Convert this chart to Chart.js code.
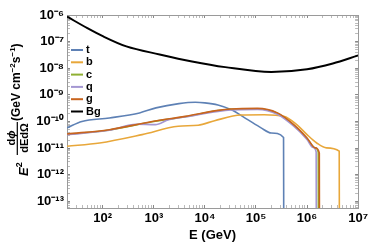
<!DOCTYPE html>
<html>
<head>
<meta charset="utf-8">
<script src="https://cdn.jsdelivr.net/npm/chart.js@4.4.0/dist/chart.umd.min.js"></script>
<style>
  html, body { margin: 0; padding: 0; background: #fff; }
</style>
</head>
<body>
<canvas id="mychart" width="374" height="245"></canvas>
<script>
// energies (GeV) and E^2 dphi/dEdOmega values
var labels = ["t", "b", "c", "q", "g", "Bg"];
var colors = ["#5E81B5", "#E8A73A", "#8FB032", "#A497D2", "#C8641E", "#000000"];

var tE    = [20, 39, 135, 525, 1100, 3100, 6500, 1e4, 1.8e4, 3.3e4, 6.9e4, 1.26e5, 2e5, 3.47e5, 3.5e5];
var tFlux = [5.75e-11, 1.0e-10, 1.35e-10, 2.09e-10, 3.24e-10, 4.68e-10, 5.25e-10, 5.0e-10, 4.17e-10, 2.75e-10, 1.17e-10, 5.75e-11, 3.7e-11, 2.5e-11, 1e-14];

var bE    = [20, 87, 590, 3000, 7400, 1.55e4, 5.1e4, 1.45e5, 3.5e5, 6.3e5, 1e6, 1.55e6, 2.4e6, 4.27e6, 4.3e6];
var bFlux = [1.17e-11, 1.55e-11, 3.2e-11, 6.6e-11, 7.2e-11, 1.07e-10, 1.74e-10, 1.78e-10, 1.55e-10, 7.6e-11, 3.2e-11, 1.55e-11, 1.02e-11, 7.6e-12, 1e-14];

var cE    = [20, 135, 930, 4100, 1.82e4, 3.24e4, 1.07e5, 2.63e5, 5.5e5, 1e6, 1.45e6, 1.66e6, 1.67e6];
var cFlux = [3.3e-11, 4.8e-11, 9.8e-11, 1.51e-10, 2.57e-10, 2.88e-10, 3.02e-10, 2.04e-10, 7.2e-11, 2.3e-11, 1.0e-11, 6.9e-12, 1e-14];

var qE    = [20, 135, 450, 1070, 1950, 4100, 1.82e4, 3.24e4, 1.07e5, 2.63e5, 5.5e5, 1e6, 1.32e6, 1.51e6, 1.52e6];
var qFlux = [3.2e-11, 4.7e-11, 7.9e-11, 7.6e-11, 1.17e-10, 1.48e-10, 2.4e-10, 2.7e-10, 2.82e-10, 1.86e-10, 6.6e-11, 2.1e-11, 1.05e-11, 7.1e-12, 1e-14];

var gE    = [20, 135, 930, 4100, 1.82e4, 3.24e4, 1.07e5, 2.63e5, 5.5e5, 1e6, 1.45e6, 1.74e6, 1.75e6];
var gFlux = [3.4e-11, 4.9e-11, 1.0e-10, 1.55e-10, 2.6e-10, 2.95e-10, 3.1e-10, 2.1e-10, 7.6e-11, 2.4e-11, 1.02e-11, 6.6e-12, 1e-14];

var bgE    = [20, 50, 100, 290, 1300, 5600, 2.5e4, 2e5, 1e6, 3.2e6, 1e7];
var bgFlux = [8.7e-7, 3.2e-7, 1.6e-7, 6.6e-8, 3.3e-8, 1.8e-8, 1.1e-8, 7.2e-9, 9.1e-9, 1.5e-8, 3.0e-8];

var xMin = 19.95, xMax = 1e7;
var yMin = 5.6e-14, yMax = 1e-6;

function pts(E, F) {
  return E.map(function (e, i) { return { x: e, y: F[i] }; });
}

var series = [[tE, tFlux], [bE, bFlux], [cE, cFlux], [qE, qFlux], [gE, gFlux], [bgE, bgFlux]];
var datasets = series.map(function (s, i) {
  return {
    label: labels[i],
    data: pts(s[0], s[1]),
    borderColor: colors[i],
    borderWidth: i == 5 ? 2 : 1.6,
    pointRadius: 0,
    cubicInterpolationMode: "monotone",
    fill: false,
    order: 5 - i   // later curves on top, like the original
  };
});

var sup = { "-": "\u207B", "0": "\u2070", "1": "\u00B9", "2": "\u00B2", "3": "\u00B3", "4": "\u2074",
            "5": "\u2075", "6": "\u2076", "7": "\u2077", "8": "\u2078", "9": "\u2079" };

function powLabel(v) {
  var e = Math.round(Math.log10(v));
  if (Math.abs(v / Math.pow(10, e) - 1) > 1e-6) return "";
  return "10" + String(e).split("").map(function (c) { return sup[c]; }).join("");
}

// all 1..9 x 10^n ticks so the frame gets minor marks
function logTicks(scale) {
  var t = [];
  var lo = Math.floor(Math.log10(scale.min)), hi = Math.ceil(Math.log10(scale.max));
  for (var e = lo; e <= hi; e++) {
    for (var m = 1; m <= 9; m++) {
      var v = m * Math.pow(10, e);
      if (v >= scale.min * 0.999 && v <= scale.max * 1.001) t.push({ value: v, major: m == 1 });
    }
  }
  scale.ticks = t;
}

var tickFont = { family: "Liberation Sans", weight: "bold", size: 13 };
var frame = { display: true, color: "#9a9a9a", width: 1 };
var grid = {
  drawOnChartArea: false,
  tickLength: -3,
  tickColor: function (ctx) { return ctx.tick && ctx.tick.major ? "#888" : "#bbb"; }
};

function axis(pos, min, max, withLabels, size) {
  return {
    type: "logarithmic",
    position: pos,
    min: min,
    max: max,
    border: frame,
    grid: grid,
    afterBuildTicks: logTicks,
    afterFit: function (s) {
      if (pos == "left" || pos == "right") s.width = size; else s.height = size;
    },
    ticks: {
      display: withLabels,
      autoSkip: false,
      maxRotation: 0,
      color: "#000",
      font: tickFont,
      padding: 6,
      callback: function (v) { return powLabel(v); }
    }
  };
}

var scales = {
  x: axis("bottom", xMin, xMax, true, 37),
  x2: axis("top", xMin, xMax, false, 0),
  y: axis("left", yMin, yMax, true, 67),
  y2: axis("right", yMin, yMax, false, 0)
};
scales.x.title = {
  display: true,
  text: "E (GeV)",
  color: "#000",
  font: { family: "Liberation Sans", weight: "bold", size: 13 },
  padding: { top: 0, bottom: 2 }
};

// legend drawn inside the plot, top-left
var inLegend = {
  id: "inLegend",
  afterDraw: function (chart) {
    var ctx = chart.ctx;
    ctx.save();
    chart.data.datasets.forEach(function (d, i) {
      var y = 50 + 12.3 * i;
      ctx.strokeStyle = d.borderColor;
      ctx.lineWidth = 2;
      ctx.beginPath();
      ctx.moveTo(71, y);
      ctx.lineTo(83, y);
      ctx.stroke();
      ctx.fillStyle = "#000";
      ctx.font = "bold 11px 'Liberation Sans'";
      ctx.textBaseline = "middle";
      ctx.fillText(d.label, 86, y);
    });
    ctx.restore();
  }
};

// rotated y title with the fraction
var yTitle = {
  id: "yTitle",
  afterDraw: function (chart) {
    var ctx = chart.ctx;
    ctx.save();
    ctx.rotate(-Math.PI / 2);
    ctx.fillStyle = "#000";
    ctx.textBaseline = "alphabetic";
    function run(parts, Y, X) {
      var u = -Y;
      parts.forEach(function (p) {
        ctx.font = p[1];
        ctx.fillText(p[0], u, X - (p[2] || 0));
        u += ctx.measureText(p[0]).width;
      });
    }
    run([["E", "italic bold 13px 'Liberation Sans'"], ["2", "bold 9px 'Liberation Sans'", 6]], 176, 28);
    ctx.font = "bold 11px 'Liberation Sans'";
    var wd = ctx.measureText("dEd\u03A9").width;
    run([["dEd\u03A9", "bold 11px 'Liberation Sans'"]], 138 + wd / 2, 28);
    ctx.font = "bold 11px 'Liberation Sans'";
    var w1 = ctx.measureText("d").width;
    ctx.font = "italic bold 11px 'Liberation Sans'";
    var w2 = ctx.measureText("\u03D5").width;
    run([["d", "bold 11px 'Liberation Sans'"], ["\u03D5", "italic bold 11px 'Liberation Sans'"]], 138 + (w1 + w2) / 2, 15);
    ctx.fillRect(-155, 16.7, 33, 1.2);
    run([["(GeV cm", "bold 12px 'Liberation Sans'"], ["\u22122", "bold 8px 'Liberation Sans'", 5],
         ["s", "bold 12px 'Liberation Sans'"], ["\u22121", "bold 8px 'Liberation Sans'", 5],
         [")", "bold 12px 'Liberation Sans'"]], 121, 20);
    ctx.restore();
  }
};

var mychart = new Chart("mychart", {
  type: "line",
  data: { datasets: datasets },
  options: {
    responsive: false,
    animation: false,
    layout: { padding: { left: 0, top: 15, right: 12, bottom: 0 } },
    plugins: {
      legend: { display: false },
      tooltip: { enabled: false }
    },
    scales: scales
  },
  plugins: [inLegend, yTitle]
});
</script>
</body>
</html>
